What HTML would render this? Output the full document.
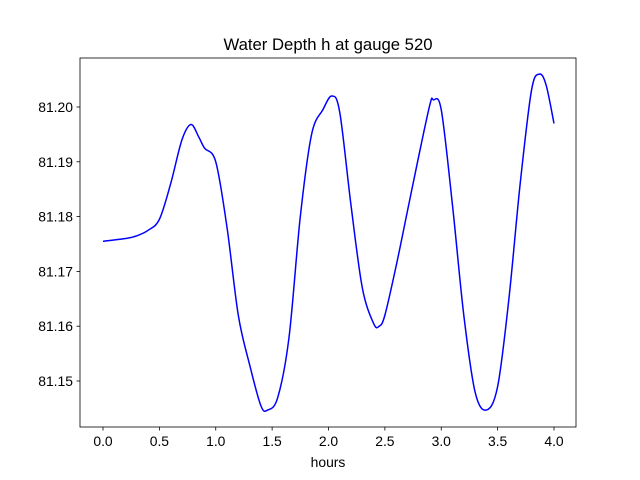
<!DOCTYPE html>
<html><head><meta charset="utf-8"><style>
html,body{margin:0;padding:0;background:#fff;}
svg{display:block;font-family:"Liberation Sans","DejaVu Sans",sans-serif;}
</style></head><body>
<svg id="chart" width="640" height="480" viewBox="0 0 640 480"></svg>
<script>
const hours=[0.0,0.2,0.3,0.4,0.5,0.6,0.7,0.78,0.85,0.9,1.0,1.1,1.2,1.3,1.4,1.46,1.55,1.65,1.75,1.85,1.95,2.03,2.1,2.2,2.3,2.4,2.45,2.5,2.6,2.7,2.8,2.9,2.93,3.0,3.1,3.2,3.3,3.4,3.5,3.6,3.7,3.8,3.87,3.93,4.0];
const depth=[81.1755,81.176,81.1765,81.1775,81.1795,81.186,81.194,81.1968,81.1945,81.1925,81.190,81.178,81.162,81.153,81.1455,81.1447,81.147,81.158,81.180,81.195,81.1995,81.2020,81.199,81.182,81.167,81.1605,81.160,81.162,81.171,81.181,81.191,81.2005,81.2013,81.1995,81.182,81.162,81.148,81.1447,81.149,81.165,81.186,81.203,81.206,81.204,81.197];
const xTicks=[0.0,0.5,1.0,1.5,2.0,2.5,3.0,3.5,4.0];
const yTicks=[81.15,81.16,81.17,81.18,81.19,81.20];
const NS="http://www.w3.org/2000/svg";
const svg=document.getElementById('chart');
const L=80,R=576,T=58,B=427;
function xs(v){return 103+v*112.75;}
function ys(v){return 381-(v-81.15)*5480;}
function mk(tag,attrs,parent){const e=document.createElementNS(NS,tag);for(const k in attrs)e.setAttribute(k,attrs[k]);(parent||svg).appendChild(e);return e;}
const pts=hours.map((h,i)=>[xs(h),ys(depth[i])]);
let d="M"+pts[0][0]+","+pts[0][1];
for(let i=0;i<pts.length-1;i++){
 const p0=pts[Math.max(0,i-1)],p1=pts[i],p2=pts[i+1],p3=pts[Math.min(pts.length-1,i+2)];
 const c1=[p1[0]+(p2[0]-p0[0])/6,p1[1]+(p2[1]-p0[1])/6];
 const c2=[p2[0]-(p3[0]-p1[0])/6,p2[1]-(p3[1]-p1[1])/6];
 d+=" C"+c1[0]+","+c1[1]+" "+c2[0]+","+c2[1]+" "+p2[0]+","+p2[1];
}
const line=mk('path',{d:d,fill:'none',stroke:'#0000ff','stroke-width':1.5});


const frame=mk('rect',{x:L,y:T,width:R-L,height:B-T,fill:'none',stroke:'#000','stroke-width':0.8});


xTicks.forEach(v=>{
 const x=xs(v);
 mk('line',{x1:x,x2:x,y1:B,y2:B+3.5,stroke:'#000','stroke-width':0.8});
 const t=mk('text',{x:x,y:B+19,'text-anchor':'middle','font-size':13.9});
 t.textContent=v.toFixed(1);
 
 
});
yTicks.forEach(v=>{
 const y=ys(v);
 mk('line',{x1:L-3.5,x2:L,y1:y,y2:y,stroke:'#000','stroke-width':0.8});
 const t=mk('text',{x:L-7,y:y+5,'text-anchor':'end','font-size':13.9});
 t.textContent=v.toFixed(2);
 
 
});
const xt=mk('text',{x:328,y:467,'text-anchor':'middle','font-size':13.9});
xt.textContent='hours';


const title=mk('text',{x:328,y:50,'text-anchor':'middle','font-size':16.7});
title.textContent='Water Depth h at gauge 520';


</script>
</body></html>
